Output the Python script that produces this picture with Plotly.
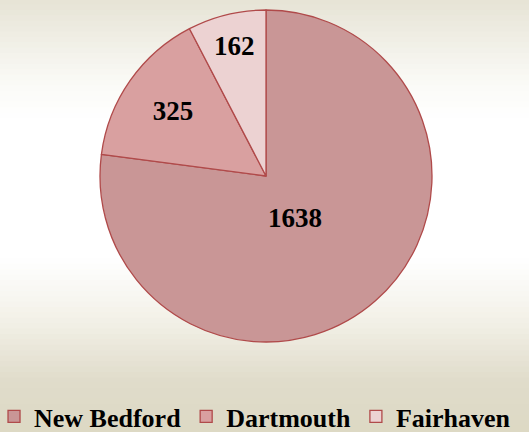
import math
import plotly.graph_objects as go

labels = ["New Bedford", "Dartmouth", "Fairhaven"]
values = [1638, 325, 162]
colors = ["#c99696", "#d9a0a0", "#ecd2d2"]

W, H = 529, 432

# background gradient stops (fraction from top, colour)
bg_stops = [(0.0, (230, 227, 213)), (0.19, (250, 250, 246)), (0.28, (255, 255, 255)),
            (0.60, (255, 255, 255)), (0.74, (243, 241, 232)), (0.88, (224, 220, 203)),
            (1.0, (221, 217, 196))]

def bg_color(t):
    for (t0, c0), (t1, c1) in zip(bg_stops[:-1], bg_stops[1:]):
        if t0 <= t <= t1:
            f = (t - t0) / (t1 - t0) if t1 > t0 else 0
            return "rgb(%d,%d,%d)" % tuple(round(a + (b - a) * f) for a, b in zip(c0, c1))
    return "rgb(%d,%d,%d)" % bg_stops[-1][1]

n = 80
shapes = []
for i in range(n):
    t0, t1 = i / n, (i + 1) / n
    shapes.append(dict(type="rect", xref="paper", yref="paper", x0=0, x1=1,
                       y0=1 - t1, y1=1 - t0 + 0.002, fillcolor=bg_color((t0 + t1) / 2),
                       line=dict(width=0), layer="below"))

dom_x = [100 / W, 432 / W]
dom_y = [1 - 342 / H, 1 - 10 / H]
label_font = dict(family="Liberation Serif", size=27, color="black", weight="bold")

fig = go.Figure(go.Pie(
    labels=labels, values=values, sort=False, direction="clockwise", rotation=0,
    marker=dict(colors=colors, line=dict(color="#b04a4a", width=1.3)),
    texttemplate=["", "%{value}", "%{value}"], textposition="inside",
    insidetextorientation="horizontal",
    textfont=label_font,
    domain=dict(x=dom_x, y=dom_y),
    hoverinfo="label+value",
))

# label of the large slice placed along its mid-angle, nearer the centre (as in the original)
total = sum(values)
mid = 2 * math.pi * (values[0] / 2) / total + 0.12
R_px = (dom_x[1] - dom_x[0]) * W / 2
cx = (dom_x[0] + dom_x[1]) / 2
cy = (dom_y[0] + dom_y[1]) / 2
rf = 0.31
fig.add_annotation(x=cx + rf * R_px * math.sin(mid) / W,
                   y=cy + rf * R_px * math.cos(mid) / H,
                   xref="paper", yref="paper", text=str(values[0]), showarrow=False,
                   font=label_font)

fig.update_layout(
    width=W, height=H, margin=dict(l=0, r=0, t=0, b=0, autoexpand=False),
    paper_bgcolor="rgba(0,0,0,0)", plot_bgcolor="rgba(0,0,0,0)",
    shapes=shapes,
    showlegend=True,
    legend=dict(orientation="h", x=-0.0113, xanchor="left", y=-0.0185, yanchor="bottom",
                font=dict(family="Liberation Serif", size=26, color="black", weight="bold"),
                bgcolor="rgba(0,0,0,0)", itemwidth=30, tracegroupgap=0),
)

fig.write_html("out.html", config={"displayModeBar": False},
               post_script="document.body.style.margin='0px';")
